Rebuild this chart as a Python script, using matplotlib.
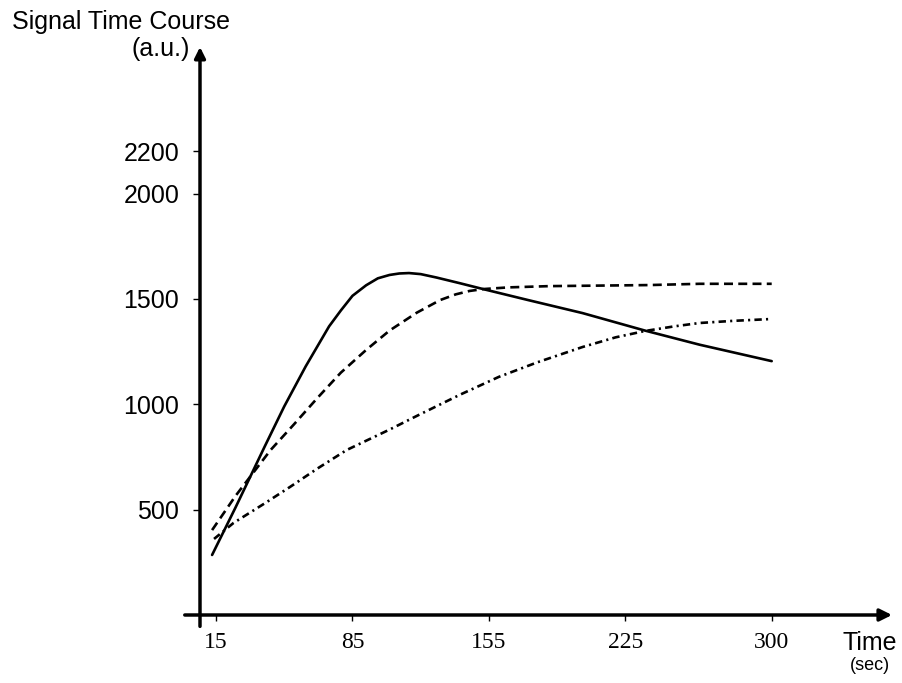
import numpy as np
import matplotlib
matplotlib.use("Agg")
import matplotlib.pyplot as plt

# valeurs (temps en s, signal en u.a.)
t_solid = [13, 25, 40, 50, 61, 67, 73, 79, 85, 92, 98, 104, 109, 114, 120, 128, 140, 152, 175, 203, 235, 263, 300]
y_solid = [285, 510, 800, 990, 1180, 1275, 1370, 1445, 1515, 1565, 1598, 1614, 1621, 1623, 1618, 1602, 1575, 1547, 1495, 1433, 1350, 1283, 1205]

t_dash = [13, 25, 43, 55, 67, 79, 92, 104, 118, 130, 138, 145, 152, 165, 186, 237, 263, 300]
y_dash = [403, 565, 783, 905, 1030, 1150, 1258, 1350, 1435, 1495, 1522, 1538, 1547, 1555, 1561, 1566, 1572, 1572]

t_dashdot = [14, 24, 40, 53, 67, 82, 104, 118, 140, 160, 180, 203, 220, 235, 250, 263, 280, 300]
y_dashdot = [361, 437, 530, 608, 695, 783, 880, 945, 1045, 1130, 1200, 1272, 1318, 1348, 1370, 1386, 1396, 1405]

x_ticks = [15, 85, 155, 225, 300]
y_ticks = [500, 1000, 1500, 2000, 2200]

W, H = 903, 683
fig = plt.figure(figsize=(W / 100, H / 100), dpi=100)
ax = fig.add_axes([200 / W, 68 / H, 692 / W, 568 / H])

lw = 1.9
ax.plot(t_solid, y_solid, color="k", lw=lw, solid_capstyle="round", solid_joinstyle="round")
ax.plot(t_dash, y_dash, color="k", lw=lw, dashes=(3.4, 2.0))
ax.plot(t_dashdot, y_dashdot, color="k", lw=lw, dashes=(2.8, 1.6, 0.8, 1.6))

ax.set_xlim(6.8, 361.7)
ax.set_ylim(0, 2696)

for s in ax.spines.values():
    s.set_visible(False)

# axes avec flèches
ax.annotate("", xy=(1.0, 0), xytext=(-0.022, 0), xycoords="axes fraction",
            arrowprops=dict(arrowstyle="-|>", lw=2.5, color="k",
                            mutation_scale=18, shrinkA=0, shrinkB=0))
ax.annotate("", xy=(0, 1.0), xytext=(0, -0.02), xycoords="axes fraction",
            arrowprops=dict(arrowstyle="-|>", lw=2.5, color="k",
                            mutation_scale=16, shrinkA=0, shrinkB=0))

ax.set_xticks(x_ticks)
ax.set_xticklabels([str(v) for v in x_ticks], family="Liberation Serif", fontsize=17)
ax.set_yticks(y_ticks)
ax.set_yticklabels([str(v) for v in y_ticks], family="Liberation Sans", fontsize=18)
ax.tick_params(axis="x", direction="out", length=4, width=1, pad=8)
ax.tick_params(axis="y", direction="out", length=5, width=1, pad=10)

fig.text(12 / W, 1 - 22 / H, "Signal Time Course", family="Liberation Sans",
         fontsize=18, ha="left", va="center")
fig.text(190 / W, 1 - 49 / H, "(a.u.)", family="Liberation Sans",
         fontsize=18, ha="right", va="center")
fig.text(870 / W, 1 - 643 / H, "Time", family="Liberation Sans",
         fontsize=18, ha="center", va="center")
fig.text(870 / W, 1 - 665 / H, "(sec)", family="Liberation Sans",
         fontsize=13, ha="center", va="center")

fig.savefig("out.png", dpi=100)
